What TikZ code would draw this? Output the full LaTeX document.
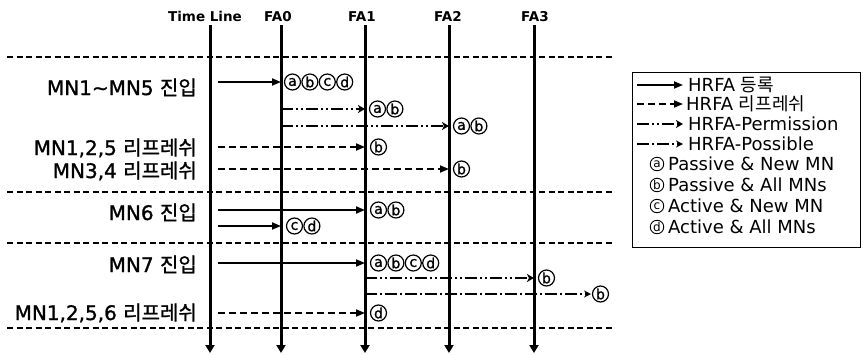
\documentclass[tikz,border=0pt]{standalone}
\usepackage{fontspec}
\setmainfont{DejaVu Sans}
\newfontfamily\krfont{Noto Sans CJK KR}
\newfontfamily\labelfont{DejaVu Sans}[FakeBold=1.2]
\newfontfamily\krlabelfont{Noto Sans CJK KR}[FakeBold=1.2]
\usetikzlibrary{arrows.meta}
\newcommand{\kr}[1]{{\krfont #1}}
\newcommand{\krl}[1]{{\krlabelfont #1}}
\tikzset{
  lifeline/.style={line width=3pt, -{Triangle[length=8pt,width=9pt]}},
  sep/.style={line width=1.1pt, dash pattern=on 6pt off 3.5pt},
  reg/.style={line width=1.7pt, -{Triangle[length=9pt,width=7pt]}},
  refresh/.style={line width=1.7pt, dash pattern=on 7pt off 4pt, -{Triangle[length=9pt,width=7pt]}},
  permit/.style={line width=1.7pt, dash pattern=on 12pt off 3pt on 2pt off 3pt on 2pt off 3pt, -{Stealth[length=7pt,width=8pt,inset=2pt]}},
  possible/.style={line width=1.7pt, dash pattern=on 12pt off 3pt on 2pt off 3pt, -{Stealth[length=7pt,width=7pt]}},
  rowlabel/.style={anchor=base east, font=\labelfont\fontsize{20}{22}\selectfont, inner sep=0pt},
  circtag/.style={circle, draw, line width=1.2pt, minimum size=16pt, inner sep=0pt,
    font=\labelfont\fontsize{14}{14}\selectfont},
  head/.style={anchor=base, font=\bfseries\fontsize{13.5}{15}\selectfont, inner sep=0pt},
  legtext/.style={anchor=west, font=\fontsize{18}{20}\selectfont, inner sep=0pt},
  legtag/.style={circle, draw, line width=0.9pt, minimum size=13.5pt, inner sep=0pt,
    font=\fontsize{12}{12}\selectfont},
  legbox/.style={draw, line width=1.2pt},
}
% a row of circled letters, starting at the given left edge
\newcommand{\tagrow}[4]{%
  \foreach \c [count=\k from 0] in {#4}{%
    \node[circtag] (#1-\k) at (#2+8.5+17.4*\k,#3) {\c};
  }%
}
\begin{document}
\begin{tikzpicture}[x=1pt, y=-1pt]
\useasboundingbox (0,0) rectangle (863,354);

% column headers
\node[head] (hTL)  at (205,21.5) {Time Line};
\node[head] (hFA0) at (278,21.5) {FA0};
\node[head] (hFA1) at (362,21.5) {FA1};
\node[head] (hFA2) at (448,21.5) {FA2};
\node[head] (hFA3) at (535,21.5) {FA3};

% lifeline ends
\coordinate (tlT)  at (210,25);  \coordinate (tlB)  at (210,353);
\coordinate (fa0T) at (281,25);  \coordinate (fa0B) at (281,353);
\coordinate (fa1T) at (365,25);  \coordinate (fa1B) at (365,353);
\coordinate (fa2T) at (449,25);  \coordinate (fa2B) at (449,353);
\coordinate (fa3T) at (534,25);  \coordinate (fa3B) at (534,353);

% phase separators
\foreach \i/\y in {1/57,2/192,3/243,4/328}{
  \coordinate (sepL\i) at (7,\y);
  \coordinate (sepR\i) at (613,\y);
  \draw[sep] (sepL\i) -- (sepR\i);
}

% lifelines
\draw[lifeline] (tlT) -- (tlB);
\draw[lifeline] (fa0T) -- (fa0B);
\draw[lifeline] (fa1T) -- (fa1B);
\draw[lifeline] (fa2T) -- (fa2B);
\draw[lifeline] (fa3T) -- (fa3B);

% row labels
\node[rowlabel] (l1) at (197,95)  {MN1\textasciitilde MN5 \krl{진입}};
\node[rowlabel] (l2) at (197,155) {MN1,2,5 \krl{리프레쉬}};
\node[rowlabel] (l3) at (197,178) {MN3,4 \krl{리프레쉬}};
\node[rowlabel] (l4) at (197,220) {MN6 \krl{진입}};
\node[rowlabel] (l5) at (197,272) {MN7 \krl{진입}};
\node[rowlabel] (l6) at (197,320) {MN1,2,5,6 \krl{리프레쉬}};

% message start points
\coordinate (s1)  at (218,82);
\coordinate (s2)  at (281,109);
\coordinate (s3)  at (281,126);
\coordinate (s4)  at (218,147);
\coordinate (s5)  at (218,169);
\coordinate (s6)  at (218,210);
\coordinate (s7)  at (218,226);
\coordinate (s8)  at (218,263);
\coordinate (s9)  at (365,278);
\coordinate (s10) at (365,294);
\coordinate (s11) at (218,313);
\coordinate (e10) at (591,294);

% messages
\draw[reg]      (s1)  -- (s1 -| fa0T);
\draw[permit]   (s2)  -- (s2 -| fa1T);
\draw[permit]   (s3)  -- (s3 -| fa2T);
\draw[refresh]  (s4)  -- (s4 -| fa1T);
\draw[refresh]  (s5)  -- (s5 -| fa2T);
\draw[reg]      (s6)  -- (s6 -| fa1T);
\draw[reg]      (s7)  -- (s7 -| fa0T);
\draw[reg]      (s8)  -- (s8 -| fa1T);
\draw[permit]   (s9)  -- (s9 -| fa3T);
\draw[possible] (s10) -- (e10);
\draw[refresh]  (s11) -- (s11 -| fa1T);

% message tags
\tagrow{t1}{284}{82}{a,b,c,d}
\tagrow{t2}{369}{109}{a,b}
\tagrow{t3}{453}{126}{a,b}
\tagrow{t4}{370}{147}{b}
\tagrow{t5}{453}{169}{b}
\tagrow{t6}{370}{210}{a,b}
\tagrow{t7}{286}{226}{c,d}
\tagrow{t8}{370}{263}{a,b,c,d}
\tagrow{t9}{538}{278}{b}
\tagrow{t10}{592}{294}{b}
\tagrow{t11}{370}{313}{d}

% legend
\node[legbox, minimum width=228pt, minimum height=175pt, anchor=north west] (legend) at (632,72) {};
\foreach \n/\y/\st in {a/85/reg,b/104/refresh,c/124/permit,d/144/possible}{
  \coordinate (ls\n) at (637,\y);
  \coordinate (le\n) at (683,\y);
  \draw[\st] (ls\n) -- (le\n);
}
\node[legtext] (lt1) at (688,85)  {HRFA \kr{등록}};
\node[legtext] (lt2) at (686,104) {HRFA \kr{리프레쉬}};
\node[legtext] (lt3) at (688,124) {HRFA-Permission};
\node[legtext] (lt4) at (688,144) {HRFA-Possible};
\node[legtag] (lg1) at (657,164) {a};
\node[legtag] (lg2) at (657,185) {b};
\node[legtag] (lg3) at (657,206) {c};
\node[legtag] (lg4) at (657,227) {d};
\node[legtext] (lx1) at (668,164) {Passive \& New MN};
\node[legtext] (lx2) at (668,185) {Passive \& All MNs};
\node[legtext] (lx3) at (668,206) {Active \& New MN};
\node[legtext] (lx4) at (668,227) {Active \& All MNs};
\end{tikzpicture}
\end{document}
